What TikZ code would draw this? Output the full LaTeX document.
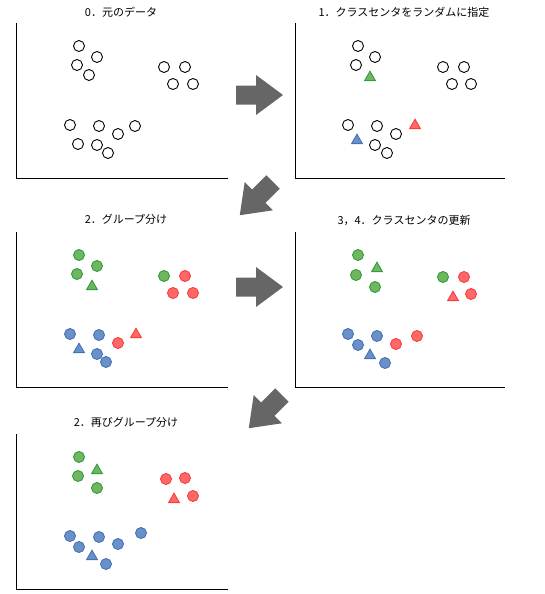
\documentclass[tikz,border=0pt]{standalone}
\usepackage{fontspec}
\setmainfont{Noto Sans CJK JP}
\usetikzlibrary{shapes.geometric}

\definecolor{grfill}{RGB}{112,182,96}
\definecolor{grline}{RGB}{46,158,62}
\definecolor{rdfill}{RGB}{255,104,104}
\definecolor{rdline}{RGB}{250,60,60}
\definecolor{blfill}{RGB}{106,144,201}
\definecolor{blline}{RGB}{70,114,180}
\definecolor{arrowgray}{RGB}{102,102,102}

\tikzset{
	axis/.style={line width=1pt},
	title/.style={font=\fontsize{11}{13}\selectfont, inner sep=0pt},
	pt/.style={circle, line width=0.9pt, minimum size=11pt, inner sep=0pt},
	data/.style={pt, draw=black, fill=white},
	grc/.style={pt, draw=grline, fill=grfill},
	rdc/.style={pt, draw=rdline, fill=rdfill},
	blc/.style={pt, draw=blline, fill=blfill},
	tri/.style={regular polygon, regular polygon sides=3, minimum size=12.5pt, inner sep=0pt, line width=0.9pt, yshift=-1.5pt},
	grt/.style={tri, draw=grline, fill=grfill},
	rdt/.style={tri, draw=rdline, fill=rdfill},
	blt/.style={tri, draw=blline, fill=blfill},
	bigarrow/.pic={\fill[arrowgray] (0,-9.5) -- (20,-9.5) -- (20,-20) -- (47,0) -- (20,20) -- (20,9.5) -- (0,9.5) -- cycle;}
}

\begin{document}
\begin{tikzpicture}[x=1pt, y=-1pt]
	\useasboundingbox (0,0) rectangle (544,594);
	% 0: raw data
	\node[title] (t0) at (121,12) {0．元のデータ};
	\draw[axis] (16,23) -- (16,178) -- (228,178);
	\foreach \x/\y [count=\i] in {79/46,97/57,77/65,89/75,164/67,185/67,173/84,193/84,70/125,99/126,118/134,135/126,78/144,97/145,108/153}
		\node[data] (a-\i) at (\x,\y) {};
	% 1: random centers
	\begin{scope}[shift={(279,0)}]
	\node[title] (t1) at (125,12) {1．クラスセンタをランダムに指定};
	\draw[axis] (16,23) -- (16,178) -- (226,178);
	\foreach \x/\y [count=\i] in {79/46,96/57,77/65,164/67,185/67,173/84,192/84,69/125,98/126,117/134,96/145,108/153}
		\node[data] (b-\i) at (\x,\y) {};
	\node[grt] (b-g) at (91,76) {};
	\node[rdt] (b-r) at (136,124) {};
	\node[blt] (b-b) at (78,139) {};
	\end{scope}
	% 2: grouping
	\begin{scope}[shift={(0,209)}]
	\node[title] (t2) at (126,10) {2．グループ分け};
	\draw[axis] (16,23) -- (16,178) -- (228,178);
	\foreach \x/\y [count=\i] in {79/46,97/57,77/65,164/67}
		\node[grc] (c-g\i) at (\x,\y) {};
	\foreach \x/\y [count=\i] in {185/67,173/84,193/84,118/134}
		\node[rdc] (c-r\i) at (\x,\y) {};
	\foreach \x/\y [count=\i] in {70/125,99/126,97/145,106/153}
		\node[blc] (c-b\i) at (\x,\y) {};
	\node[grt] (c-g) at (92,76) {};
	\node[rdt] (c-r) at (136,124) {};
	\node[blt] (c-b) at (79,139) {};
	\end{scope}
	% 3,4: move centers
	\begin{scope}[shift={(279,209)}]
	\node[title] (t3) at (125,11) {3，4．クラスセンタの更新};
	\draw[axis] (16,23) -- (16,178) -- (226,178);
	\foreach \x/\y [count=\i] in {79/46,77/66,96/78,164/68}
		\node[grc] (d-g\i) at (\x,\y) {};
	\foreach \x/\y [count=\i] in {185/68,192/85,138/127,117/135}
		\node[rdc] (d-r\i) at (\x,\y) {};
	\foreach \x/\y [count=\i] in {69/125,98/127,79/136,106/154}
		\node[blc] (d-b\i) at (\x,\y) {};
	\node[grt] (d-g) at (98,58) {};
	\node[rdt] (d-r) at (174,87) {};
	\node[blt] (d-b) at (91,145) {};
	\end{scope}
	% 2 again
	\begin{scope}[shift={(0,411)}]
	\node[title] (t4) at (126,11) {2．再びグループ分け};
	\draw[axis] (16,23) -- (16,178) -- (228,178);
	\foreach \x/\y [count=\i] in {79/46,78/65,97/77}
		\node[grc] (e-g\i) at (\x,\y) {};
	\foreach \x/\y [count=\i] in {166/68,185/67,193/85}
		\node[rdc] (e-r\i) at (\x,\y) {};
	\foreach \x/\y [count=\i] in {70/125,99/126,141/122,118/133,79/136,106/153}
		\node[blc] (e-b\i) at (\x,\y) {};
	\node[grt] (e-g) at (97,58) {};
	\node[rdt] (e-r) at (174,87) {};
	\node[blt] (e-b) at (92,144) {};
	\end{scope}
	% block arrows
	\pic at (236,95) {bigarrow};
	\pic[rotate=-135] at (273,182) {bigarrow};
	\pic at (236,287) {bigarrow};
	\pic[rotate=-135] at (282,395) {bigarrow};
\end{tikzpicture}
\end{document}
